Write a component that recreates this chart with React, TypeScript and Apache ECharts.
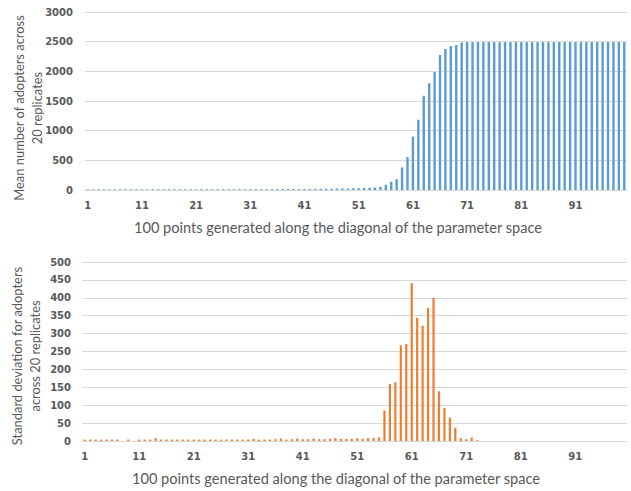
import React, { useEffect, useRef } from "react";
import * as echarts from "echarts";

const categories: string[] = Array.from({ length: 100 }, (_, i) => String(i + 1));

const meanAdopters: number[] = [
  12, 10, 11, 13, 10, 12, 11, 12, 13, 11,
  12, 10, 13, 12, 11, 13, 12, 12, 11, 13,
  12, 13, 12, 11, 13, 12, 13, 12, 13, 12,
  13, 14, 13, 12, 14, 15, 16, 15, 17, 16,
  18, 17, 19, 20, 22, 22, 24, 26, 25, 28,
  30, 33, 38, 42, 55, 88, 140, 183, 380, 556,
  900, 1185, 1588, 1798, 1988, 2275, 2376, 2426, 2443, 2485,
  2492, 2492, 2492, 2492, 2492, 2492, 2492, 2492, 2492, 2492,
  2492, 2492, 2492, 2492, 2492, 2492, 2492, 2492, 2492, 2492,
  2492, 2492, 2492, 2492, 2492, 2492, 2492, 2492, 2492, 2492,
];

const sdAdopters: number[] = [
  4, 4, 4, 4, 4, 4, 4, 0, 4, 0,
  4, 4, 4, 8, 4, 4, 4, 4, 4, 4,
  4, 4, 4, 4, 4, 4, 4, 4, 4, 4,
  4, 6, 4, 4, 4, 5, 7, 4, 5, 7,
  5, 5, 7, 5, 5, 6, 8, 6, 6, 6,
  8, 6, 8, 9, 10, 85, 159, 164, 267, 271,
  441, 344, 322, 372, 400, 139, 92, 65, 37, 8,
  5, 10, 2, 0, 0, 0, 0, 0, 0, 0,
  0, 0, 0, 0, 0, 0, 0, 0, 0, 0,
  0, 0, 0, 0, 0, 0, 0, 0, 0, 0,
];

const xTitle = "100 points generated along the diagonal of the parameter space";
const yTitleTop = "Mean number of adopters across\n20 replicates";
const yTitleBottom = "Standard deviation for adopters\nacross 20 replicates";

const GRID_COLOR = "#D9D9D9";
const TEXT_COLOR = "#595959";
const TITLE_FONT = "Lato, 'Open Sans', sans-serif";
const LABEL_FONT = "'DejaVu Sans', sans-serif";

export default function App() {
  const ref = useRef<HTMLDivElement>(null);

  useEffect(() => {
    if (!ref.current) return;
    const chart = echarts.init(ref.current, undefined, { renderer: "svg" });

    const axisLabel = {
      color: TEXT_COLOR,
      fontFamily: LABEL_FONT,
      fontWeight: "bold" as const,
      fontSize: 10,
    };

    const xAxisBase = {
      type: "category" as const,
      data: categories,
      axisTick: { show: false },
      axisLine: { lineStyle: { color: GRID_COLOR, width: 1 } },
      axisLabel: { ...axisLabel, interval: 9, margin: 10 },
    };

    const xTitleStyle = {
      fill: TEXT_COLOR,
      font: `14.6px ${TITLE_FONT}`,
      align: "center" as const,
      verticalAlign: "middle" as const,
    };
    const yTitleStyle = {
      fill: TEXT_COLOR,
      font: `12.9px ${TITLE_FONT}`,
      align: "center" as const,
      verticalAlign: "middle" as const,
      lineHeight: 18,
    };

    chart.setOption({
      animation: false,
      backgroundColor: "#ffffff",
      grid: [
        { left: 85, right: 4, top: 12, height: 178 },
        { left: 82, right: 4, top: 262, height: 179 },
      ],
      xAxis: [
        { ...xAxisBase, gridIndex: 0 },
        { ...xAxisBase, gridIndex: 1 },
      ],
      yAxis: [
        {
          type: "value",
          gridIndex: 0,
          min: 0,
          max: 3000,
          interval: 500,
          axisLine: { show: false },
          axisTick: { show: false },
          splitLine: { lineStyle: { color: GRID_COLOR, width: 1 } },
          axisLabel: { ...axisLabel, margin: 12, formatter: (v: number) => String(v) },
        },
        {
          type: "value",
          gridIndex: 1,
          min: 0,
          max: 500,
          interval: 50,
          axisLine: { show: false },
          axisTick: { show: false },
          splitLine: { lineStyle: { color: GRID_COLOR, width: 1 } },
          axisLabel: { ...axisLabel, margin: 11, formatter: (v: number) => String(v) },
        },
      ],
      series: [
        {
          type: "bar",
          xAxisIndex: 0,
          yAxisIndex: 0,
          data: meanAdopters,
          barWidth: 2.4,
          itemStyle: { color: "#5B9BD5" },
        },
        {
          type: "bar",
          xAxisIndex: 1,
          yAxisIndex: 1,
          data: sdAdopters,
          barWidth: 2.2,
          itemStyle: { color: "#ED7D31" },
        },
      ],
      graphic: [
        { type: "text", x: 338, y: 227, style: { ...xTitleStyle, text: xTitle } },
        { type: "text", x: 336, y: 478, style: { ...xTitleStyle, text: xTitle } },
        {
          type: "text",
          x: 28,
          y: 108,
          rotation: Math.PI / 2,
          style: { ...yTitleStyle, text: yTitleTop },
        },
        {
          type: "text",
          x: 26,
          y: 356,
          rotation: Math.PI / 2,
          style: { ...yTitleStyle, text: yTitleBottom },
        },
      ],
    });

    return () => chart.dispose();
  }, []);

  return (
    <div
      ref={ref}
      style={{ position: "absolute", left: 0, top: 0, width: 631, height: 491 }}
    />
  );
}
